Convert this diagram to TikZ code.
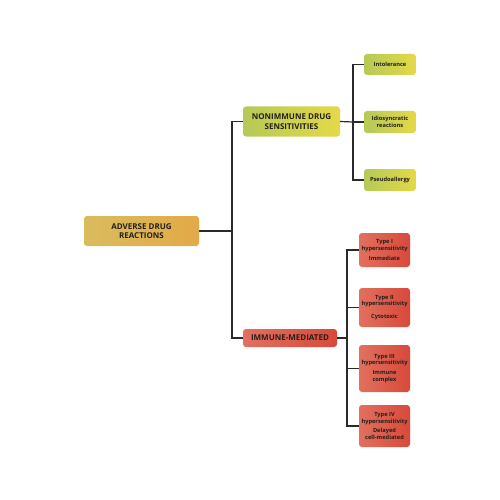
\documentclass[tikz,border=0pt]{standalone}
\usepackage{fontspec}
\setmainfont{Open Sans}
\definecolor{ink}{HTML}{231F1A}
\definecolor{wire}{HTML}{2A2A2A}
\definecolor{goldL}{HTML}{D9BC5E}
\definecolor{goldR}{HTML}{E3A947}
\definecolor{limeL}{HTML}{B6C957}
\definecolor{limeR}{HTML}{E4D947}
\definecolor{redL}{HTML}{E2705E}
\definecolor{redR}{HTML}{D8493B}
\tikzset{
	box/.style={rounded corners=3pt, inner sep=0pt, align=center, text=ink, font=\bfseries},
	big/.style={box, font=\bfseries\fontsize{8}{9.5}\selectfont},
	small/.style={box, font=\bfseries\fontsize{5.7}{6.8}\selectfont, minimum width=52pt},
	gold/.style={left color=goldL, right color=goldR},
	lime/.style={left color=limeL, right color=limeR},
	red/.style={left color=redL, right color=redR},
	wired/.style={draw=wire, line width=1.2pt}
}
\begin{document}
\begin{tikzpicture}[x=1pt, y=-1pt]
	\useasboundingbox[fill=white] (0,0) rectangle (500,500);

	% main boxes
	\node[big, gold, minimum width=115pt, minimum height=30pt] (adr) at (141.5,231) {ADVERSE DRUG\\REACTIONS};
	\node[big, lime, minimum width=97pt, minimum height=30pt] (nonimm) at (291.5,121.5) {NONIMMUNE DRUG\\SENSITIVITIES};
	\node[big, red, minimum width=94pt, minimum height=18pt] (immune) at (290,338) {IMMUNE-MEDIATED};

	% nonimmune branch
	\node[small, lime, minimum height=21pt] (intol) at (390,64.5) {Intolerance};
	\node[small, lime, minimum height=22pt] (idio) at (390,122) {Idiosyncratic\\reactions};
	\node[small, lime, minimum height=22pt] (pseudo) at (390,180) {Pseudoallergy};

	% immune branch
	\node[small, red, minimum width=51pt, minimum height=34pt] (typeI) at (384.5,250) {Type I\\hypersensitivity\\[3pt]Immediate};
	\node[small, red, minimum width=51pt, minimum height=39pt] (typeII) at (384.5,307.5) {Type II\\hypersensitivity\\[6pt]Cytotoxic};
	\node[small, red, minimum width=51pt, minimum height=47pt] (typeIII) at (384.5,368.5) {Type III\\hypersensitivity\\[3pt]Immune\\complex};
	\node[small, red, minimum width=51pt, minimum height=42pt] (typeIV) at (384.5,426) {Type IV\\hypersensitivity\\[3pt]Delayed\\cell-mediated};

	\coordinate (trunk) at (232,231);
	\coordinate (nb) at (353,122);
	\coordinate (ib) at (347,338);

	\draw[wired] (adr.east) -- (trunk);
	\draw[wired] (nonimm.west) -| (trunk) |- (immune.west);

	\draw[wired] (nonimm.east) -- (nb);
	\draw[wired] (intol.west) -| (nb) |- (pseudo.west);
	\draw[wired] (nb) -- (idio.west);

	\draw[wired] (immune.east) -- (ib);
	\draw[wired] (typeI.west) -| (ib) |- (typeIV.west);
	\draw[wired] (typeII.west) -- (typeII.west -| ib);
	\draw[wired] (typeIII.west) -- (typeIII.west -| ib);
\end{tikzpicture}
\end{document}
